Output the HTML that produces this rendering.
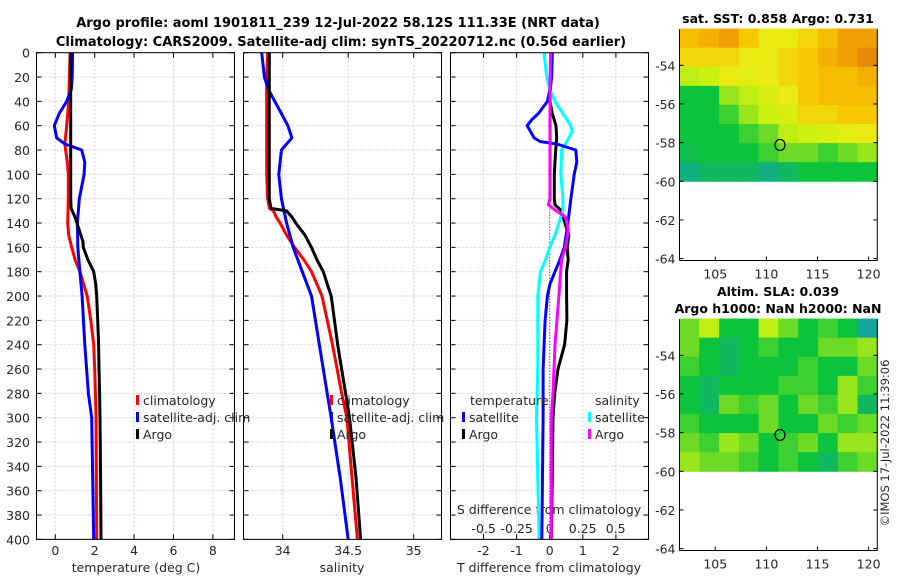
<!DOCTYPE html>
<html><head><meta charset="utf-8"><style>
html,body{margin:0;padding:0;background:#fff;width:900px;height:580px;overflow:hidden}
svg{display:block;font-family:"DejaVu Sans","Liberation Sans",sans-serif}
</style></head><body>
<svg id="c" width="900" height="580" viewBox="0 0 900 580" xmlns="http://www.w3.org/2000/svg">
<text x="338" y="27" text-anchor="middle" font-size="13" font-weight="bold" fill="#000">Argo profile: aoml 1901811_239 12-Jul-2022 58.12S 111.33E (NRT data)</text>
<text x="341" y="46" text-anchor="middle" font-size="13" font-weight="bold" fill="#000">Climatology: CARS2009. Satellite-adj clim: synTS_20220712.nc (0.56d earlier)</text>
<text x="778" y="23" text-anchor="middle" font-size="12.5" font-weight="bold">sat. SST: 0.858 Argo: 0.731</text>
<text x="778" y="296" text-anchor="middle" font-size="12.5" font-weight="bold">Altim. SLA: 0.039</text>
<text x="778" y="313" text-anchor="middle" font-size="12.5" font-weight="bold">Argo h1000: NaN h2000: NaN</text>
<text x="889" y="443" text-anchor="middle" font-size="11.5" fill="#262626" transform="rotate(-90 889 443)">©IMOS 17-Jul-2022 11:39:06</text>
<g id="g"></g>
</svg>
<script>
// ---- data ----
const depthsArgo=[0,20,40,60,80,100,120,128,135,145,155,160,170,180,190,200,220,240,260,280,300,350,400];
const tempArgo=[0.78,0.78,0.78,0.78,0.78,0.78,0.78,0.8,1.0,1.2,1.4,1.42,1.65,1.95,2.05,2.1,2.15,2.2,2.22,2.25,2.27,2.3,2.32];
const depthsClim=[0,40,60,75,90,100,120,140,150,160,170,180,200,220,240,260,300,400];
const tempClim=[0.75,0.68,0.58,0.48,0.61,0.66,0.66,0.63,0.68,0.83,1.0,1.25,1.62,1.8,1.95,2.0,2.07,2.1];
const depthsSat=[0,20,30,40,50,60,70,75,80,90,100,120,140,160,180,200,240,280,300,400];
const tempSat=[0.88,0.86,0.81,0.58,0.2,-0.05,0.07,0.49,1.34,1.5,1.46,1.22,1.12,1.14,1.25,1.36,1.5,1.68,1.85,1.95];
const depthsS=[0,20,40,60,80,100,120,128,130,135,140,150,160,170,180,190,200,240,280,300,350,400];
const salArgo=[33.898,33.898,33.898,33.898,33.898,33.898,33.898,33.91,34.03,34.07,34.1,34.17,34.22,34.26,34.31,34.34,34.37,34.42,34.48,34.51,34.56,34.595];
const salClim=[33.885,33.878,33.878,33.878,33.878,33.878,33.885,33.9,33.93,33.95,33.98,34.03,34.09,34.16,34.22,34.26,34.30,34.38,34.45,34.49,34.53,34.57];
const depthsSS=[0,20,30,40,50,60,70,80,90,100,120,140,160,180,200,280,300,350,400];
const salSat=[33.84,33.86,33.89,33.94,33.99,34.04,34.07,33.99,33.98,33.97,33.99,34.03,34.08,34.15,34.22,34.34,34.37,34.44,34.50];
const depthsTD=[0,20,40,50,60,70,80,100,120,125,130,140,150,160,170,180,200,220,240,250,260,280,300,400];
const tdiffArgo=[0.06,0.04,0.01,0.08,0.19,0.21,0.18,0.14,0.14,0.16,0.36,0.46,0.58,0.53,0.56,0.51,0.51,0.52,0.45,0.35,0.25,0.15,0.1,0.05];
const depthsTDS=[0,20,30,40,50,55,60,70,73,75,80,90,100,120,140,160,170,180,190,200,220,260,300,400];
const tdiffSat=[0.08,0.06,0.01,-0.07,-0.34,-0.54,-0.68,-0.47,-0.29,0.21,0.79,0.82,0.74,0.64,0.55,0.44,0.31,0.16,0.01,-0.07,-0.14,-0.2,-0.2,-0.24];
const depthsSD=[0,20,30,40,50,60,65,75,80,100,120,130,140,150,160,170,180,200,260,300,400];
const sdiffSat=[-0.043,-0.023,0,0.04,0.1,0.16,0.17,0.12,0.09,0.085,0.1,0.1,0.07,0.04,0,-0.03,-0.07,-0.09,-0.09,-0.1,-0.08];
const depthsSDA=[0,20,120,125,130,135,145,150,160,170,180,200,240,280,300,400];
const sdiffArgo=[0.008,0.002,0.002,-0.01,0.05,0.12,0.14,0.135,0.12,0.09,0.083,0.07,0.04,0.025,0.012,0.012];
const depthTicks=[0,20,40,60,80,100,120,140,160,180,200,220,240,260,280,300,320,340,360,380,400];
const tempTicks=[0,2,4,6,8];
const salTicks=[34,34.5,35];
const salTickLabels=['34','34.5','35'];
const tdTicks=[-2,-1,0,1,2];
const sdTicks=[-0.5,-0.25,0,0.25,0.5];
const sdTickLabels=['-0.5','-0.25','0','0.25','0.5'];
const latTicks=[-54,-56,-58,-60,-62,-64];
const lonTicks=[105,110,115,120];
const sstGrid=[
[0.9,0.92,0.95,0.88,0.8,0.8,0.85,0.9,0.95,0.95],
[0.85,0.85,0.85,0.8,0.8,0.85,0.88,0.92,0.95,0.98],
[0.7,0.72,0.8,0.78,0.8,0.85,0.88,0.9,0.9,0.92],
[0.5,0.5,0.65,0.7,0.75,0.8,0.88,0.9,0.9,0.9],
[0.5,0.5,0.55,0.65,0.72,0.75,0.85,0.85,0.88,0.88],
[0.5,0.5,0.5,0.55,0.6,0.7,0.72,0.75,0.78,0.8],
[0.48,0.5,0.5,0.5,0.55,0.6,0.6,0.55,0.6,0.65],
[0.4,0.45,0.45,0.45,0.4,0.45,0.5,0.5,0.5,0.5]];
const slaGrid=[
[0.6,0.7,0.5,0.5,0.7,0.6,0.5,0.55,0.5,0.35],
[0.6,0.5,0.45,0.5,0.55,0.5,0.5,0.6,0.6,0.65],
[0.55,0.5,0.45,0.5,0.5,0.5,0.55,0.5,0.5,0.6],
[0.5,0.45,0.5,0.5,0.5,0.55,0.55,0.5,0.65,0.55],
[0.5,0.45,0.6,0.55,0.6,0.5,0.6,0.55,0.65,0.45],
[0.55,0.5,0.5,0.5,0.6,0.5,0.5,0.6,0.55,0.6],
[0.6,0.55,0.65,0.6,0.5,0.55,0.6,0.5,0.65,0.65],
[0.65,0.6,0.6,0.55,0.5,0.55,0.5,0.45,0.55,0.6]];
const floatLon=111.33, floatLat=-58.12;

// ---- helpers ----
const NS='http://www.w3.org/2000/svg', G=document.getElementById('g');
function mk(tag,at,parent){const e=document.createElementNS(NS,tag);for(const k in at)e.setAttribute(k,at[k]);(parent||G).appendChild(e);return e;}
const Y=d=>52.7+1.2167*d;
const TOP=52.7,BOT=Y(400);
const xT=t=>55.3+19.7*t, xS=s=>282.7+131*(s-34), xTD=t=>549.7+33.1*t, xSD=s=>549.7+132*s;
const panels=[[36.5,234.5],[243.5,441.5],[450.5,648.5]];

function line(depths,vals,xf,color,name){
  const pts=depths.map((d,i)=>xf(vals[i]).toFixed(1)+','+Y(d).toFixed(1)).join(' ');
  const p=mk('polyline',{points:pts,fill:'none',stroke:color,'stroke-width':3,'stroke-linejoin':'round'});
  
  
}
function frame(L,R,vx,name){
  const g=mk('g',{});
  
  
  depthTicks.forEach(d=>{mk('line',{x1:L,x2:R,y1:Y(d),y2:Y(d),stroke:'#c9cfe6','stroke-width':1,'stroke-dasharray':'2,2'},g);
    mk('line',{x1:L,x2:L+5,y1:Y(d),y2:Y(d),stroke:'#000'},g);mk('line',{x1:R-5,x2:R,y1:Y(d),y2:Y(d),stroke:'#000'},g);});
  vx.forEach(x=>{mk('line',{x1:x,x2:x,y1:TOP,y2:BOT,stroke:'#c9cfe6','stroke-dasharray':'2,2'},g);
    mk('line',{x1:x,x2:x,y1:BOT-5,y2:BOT,stroke:'#000'},g);mk('line',{x1:x,x2:x,y1:TOP,y2:TOP+5,stroke:'#000'},g);});
  return g;
}
function txt(x,y,s,name,o){const t=mk('text',Object.assign({x:x,y:y,'font-size':12.5,fill:'#262626'},o||{}));t.textContent=s;
  
  return t;}

// ---- panels ----
frame(panels[0][0],panels[0][1],tempTicks.map(xT),'temperature-panel');
frame(panels[1][0],panels[1][1],salTicks.map(xS),'salinity-panel');
frame(panels[2][0],panels[2][1],tdTicks.map(xTD),'difference-panel');
mk('line',{x1:xTD(0),x2:xTD(0),y1:TOP,y2:BOT,stroke:'#333','stroke-dasharray':'1,2'});
depthTicks.forEach(d=>txt(30,Y(d)+5,String(d),'depth-tick-label',{'text-anchor':'end'}));
tempTicks.forEach(t=>txt(xT(t),555,String(t),'temp-tick-label',{'text-anchor':'middle'}));
salTicks.forEach((s,i)=>txt(xS(s),555,salTickLabels[i],'salinity-tick-label',{'text-anchor':'middle'}));
tdTicks.forEach(t=>txt(xTD(t),555,String(t),'tdiff-tick-label',{'text-anchor':'middle'}));
sdTicks.forEach((s,i)=>txt(xSD(s),533,sdTickLabels[i],'sdiff-tick-label',{'text-anchor':'middle'}));
txt(136,572,'temperature (deg C)','temperature-axis-title',{'text-anchor':'middle'});
txt(342,572,'salinity','salinity-axis-title',{'text-anchor':'middle'});
txt(549,572,'T difference from climatology','tdiff-axis-title',{'text-anchor':'middle'});
txt(549,514,'S difference from climatology','sdiff-axis-title',{'text-anchor':'middle'});

line(depthsClim,tempClim,xT,'#ff0000','temp-climatology-line');
line(depthsSat,tempSat,xT,'#0000ff','temp-satellite-line');
line(depthsArgo,tempArgo,xT,'#000000','temp-argo-line');
line(depthsS,salClim,xS,'#ff0000','sal-climatology-line');
line(depthsSS,salSat,xS,'#0000ff','sal-satellite-line');
line(depthsS,salArgo,xS,'#000000','sal-argo-line');
line(depthsTD,tdiffArgo,xTD,'#000000','tdiff-argo-line');
line(depthsSD,sdiffSat,xSD,'#00ffff','sdiff-satellite-line');
line(depthsTDS,tdiffSat,xTD,'#0000ff','tdiff-satellite-line');
line(depthsSDA,sdiffArgo,xSD,'#ff00ff','sdiff-argo-line');
panels.forEach(p=>mk('rect',{x:p[0],y:TOP,width:p[1]-p[0],height:BOT-TOP,fill:'none',stroke:'#000'}));

function legend(x,y,color,label){
  mk('rect',{x:x,y:y-10,width:3,height:10,fill:color});
  txt(x+7,y,label,'legend-entry');
}
[[0,'#ff0000','climatology'],[1,'#0000ff','satellite-adj. clim'],[2,'#000000','Argo']].forEach(e=>{
  legend(136,405+e[0]*17,e[1],e[2]); legend(330,405+e[0]*17,e[1],e[2]);});
txt(470,405,'temperature','legend-temperature-heading');
txt(595,405,'salinity','legend-salinity-heading');
legend(462,422,'#0000ff','satellite');legend(462,439,'#000000','Argo');
legend(588,422,'#00ffff','satellite');legend(588,439,'#ff00ff','Argo');

// ---- maps ----
const cmapStops=[[0.35,[20,168,156]],[0.45,[16,184,96]],[0.5,[12,196,60]],[0.62,[128,224,32]],[0.72,[204,240,16]],[0.8,[234,234,16]],[0.88,[245,200,0]],[0.95,[240,160,0]],[1,[224,120,16]]];
function cmap(v){for(let i=1;i<cmapStops.length;i++){if(v<=cmapStops[i][0]){const a=cmapStops[i-1],b=cmapStops[i];const f=Math.max(0,(v-a[0])/(b[0]-a[0]));
  return 'rgb('+a[1].map((c,k)=>Math.round(c+(b[1][k]-c)*f)).join(',')+')';}}return 'rgb(224,120,16)';}
function map(top,grid,name){
  const L=679.5,R=877.3;
  const lonX=l=>L+(l-101.5)*(R-L)/19.35;
  const latY=la=>top+36+(-54-la)*19.33;
  const g=mk('g',{});
  
  
  const lat0=-52.1,lat1=-60,lon0=101.5,lon1=120.85;
  const nr=grid.length,nc=grid[0].length;
  grid.forEach((row,r)=>row.forEach((v,c)=>{
    const x0=lonX(lon0+(lon1-lon0)*c/nc),x1=lonX(lon0+(lon1-lon0)*(c+1)/nc);
    const y0=latY(lat0+(lat1-lat0)*r/nr),y1=latY(lat0+(lat1-lat0)*(r+1)/nr);
    const cell=mk('rect',{x:x0,y:y0,width:x1-x0+0.5,height:y1-y0+0.5,fill:cmap(v)},g);
    
    
  }));
  const ax=latY(-64.1);
  mk('line',{x1:L,x2:L,y1:top,y2:ax,stroke:'#000'},g);
  mk('line',{x1:R,x2:R,y1:top,y2:ax,stroke:'#000'},g);
  mk('line',{x1:L,x2:R,y1:ax,y2:ax,stroke:'#000'},g);
  latTicks.forEach(la=>{const y=latY(la);mk('line',{x1:L,x2:L+4,y1:y,y2:y,stroke:'#000'},g);mk('line',{x1:R-4,x2:R,y1:y,y2:y,stroke:'#000'},g);
    txt(L-4,y+5,String(la),'map-lat-label',{'text-anchor':'end'});});
  lonTicks.forEach(lo=>{const x=lonX(lo);mk('line',{x1:x,x2:x,y1:ax-4,y2:ax,stroke:'#000'},g);
    txt(x,ax+18,String(lo),'map-lon-label',{'text-anchor':'middle'});});
  const m=mk('ellipse',{cx:lonX(floatLon),cy:latY(floatLat),rx:5,ry:5.5,fill:'none',stroke:'#000','stroke-width':1.2},g);
  
  
}
map(29.3,sstGrid,'sst-map');
map(319.3,slaGrid,'sla-map');
</script>
</body></html>
